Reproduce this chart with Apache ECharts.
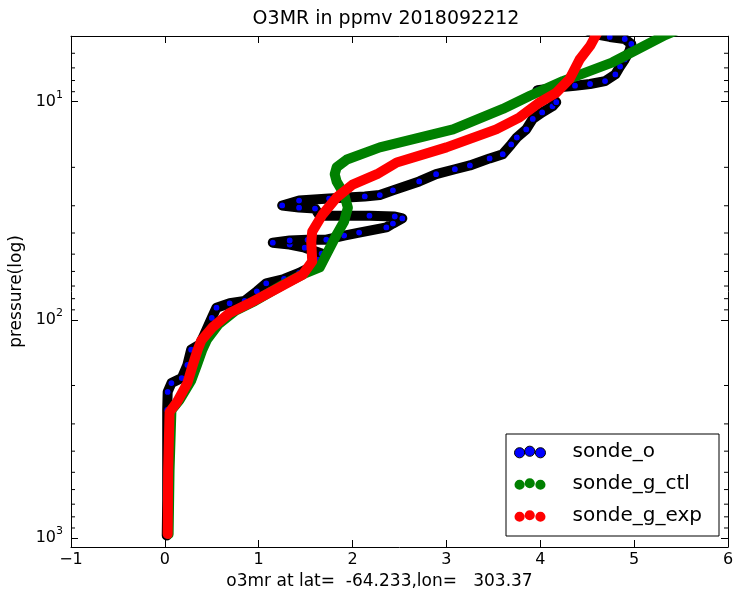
<!DOCTYPE html>
<html>
<head>
<meta charset="utf-8">
<script src="https://cdn.jsdelivr.net/npm/echarts@6/dist/echarts.min.js"></script>
</head>
<body style="margin:0;background:#fff">
<div id="main" style="width:734px;height:589px"></div>
<script>
// sonde observation: ozone (ppmv) and pressure (hPa)
var obsX = [0.02, 0.025, 0.025, 0.025, 0.03, 0.07, 0.18, 0.24, 0.28, 0.37, 0.42, 0.50, 0.55, 0.69, 0.85, 0.98, 1.08, 1.27, 1.43, 1.54, 1.63, 1.67,
            1.49, 1.33, 1.15, 1.33, 1.52, 1.72, 1.91, 2.07, 2.36, 2.43, 2.53, 2.45, 2.18, 1.91, 1.65, 1.60, 1.43, 1.25,
            1.43, 1.75, 1.94, 2.13, 2.29, 2.43, 2.71, 2.89, 3.09, 3.25, 3.46, 3.60, 3.69, 3.75, 3.85, 3.92, 4.02, 4.13, 4.17,
            4.08, 3.97, 4.20, 4.37, 4.53, 4.69, 4.80, 4.85, 4.90, 4.95, 4.97, 4.90, 4.74, 4.58, 4.47];
var obsP = [975, 670, 400, 259, 214, 195, 185, 161, 137, 130, 117, 98, 88, 84, 82, 74, 68, 65, 61, 57.7, 53, 49.7,
            46.7, 45.2, 44.3, 43.3, 43.0, 42.9, 41.1, 39.8, 37.7, 36.2, 34.3, 33.6, 33.3, 33.3, 33.3, 30.9, 30.6, 29.9,
            28.4, 27.8, 27.5, 27.2, 26.8, 25.5, 23.2, 21.5, 20.4, 19.6, 18.2, 17.4, 15.7, 14.6, 13.4, 12.0, 11.2, 10.5, 10.05,
            9.3, 8.85, 8.6, 8.45, 8.3, 8.05, 7.5, 6.9, 6.4, 5.86, 5.44, 5.16, 5.05, 4.9, 4.64];

// model control run
var ctlX = [0.04, 0.05, 0.07, 0.16, 0.28, 0.34, 0.40, 0.45, 0.57, 0.75, 0.96, 1.26, 1.50, 1.65, 1.72, 1.83, 1.91, 1.95, 1.91, 1.83, 1.81, 1.83, 1.94, 2.29, 3.07, 3.60, 3.89, 4.24, 4.77, 5.33, 5.49];
var ctlP = [960, 490, 259, 232, 190, 162, 137, 123, 105, 91, 82, 69, 61, 57.5, 50.3, 40.7, 35.4, 30.6, 26.6, 23.2, 21.5, 20.0, 18.4, 16.2, 13.4, 10.8, 9.4, 8.05, 6.6, 4.95, 4.64];

// model experiment run
var expX = [0.03, 0.035, 0.05, 0.13, 0.24, 0.29, 0.35, 0.39, 0.51, 0.69, 0.90, 1.22, 1.47, 1.57, 1.56, 1.57, 1.68, 1.83, 2.00, 2.26, 2.47, 3.00, 3.53, 3.78, 3.99, 4.17, 4.31, 4.42, 4.53, 4.63];
var expP = [960, 490, 265, 238, 195, 165, 137, 124, 108, 93, 84, 71, 62, 54, 44, 39.4, 32.9, 27.5, 24.0, 21.5, 19.0, 16.2, 13.4, 11.8, 10.1, 9.1, 7.9, 6.4, 5.56, 4.64];

var seriesNames = ['sonde_o', 'sonde_g_ctl', 'sonde_g_exp'];
var xTicks = [-1, 0, 1, 2, 3, 4, 5, 6];
var minorTickP = [6, 7, 8, 9, 20, 30, 40, 50, 60, 70, 80, 90, 200, 300, 400, 500, 600, 700, 800, 900];

function zip(xs, ps) {
    return xs.map(function (x, i) { return [x, ps[i]]; });
}

var font = 'DejaVu Sans';
var threeDots = 'path://M0,6.5a5,5 0 1,0 10,0a5,5 0 1,0 -10,0ZM10,5a5,5 0 1,0 10,0a5,5 0 1,0 -10,0ZM20.5,6.5a5,5 0 1,0 10,0a5,5 0 1,0 -10,0Z';

var myChart = echarts.init(document.getElementById('main'), null, { renderer: 'canvas' });

var pMin = 5, pMax = 1100;

function powLabel(v) {
    var e = Math.log10(v);
    if (Math.abs(e - Math.round(e)) > 1e-6) return '';
    return '10{sup|' + Math.round(e) + '}';
}

function renderMinor(params, api) {
    var cs = params.coordSys;
    var y = api.coord([0, api.value(1)])[1];
    var st = { stroke: '#000', lineWidth: 1 };
    return {
        type: 'group',
        children: [
            { type: 'line', shape: { x1: cs.x, y1: y, x2: cs.x + 4, y2: y }, style: st },
            { type: 'line', shape: { x1: cs.x + cs.width, y1: y, x2: cs.x + cs.width - 4, y2: y }, style: st }
        ]
    };
}

var axisLine = { show: true, onZero: false, lineStyle: { color: '#000', width: 1 } };
var tick = { show: true, inside: true, length: 7, lineStyle: { color: '#000', width: 1 } };

var option = {
    animation: false,
    backgroundColor: '#fff',
    title: {
        text: 'O3MR in ppmv 2018092212', z: 20,
        left: 386, top: 10, textAlign: 'center', padding: 0,
        textStyle: { fontFamily: font, fontSize: 19, fontWeight: 'normal', color: '#000' }
    },
    // white band above the plot so thick lines stop at the top spine
    graphic: [{
        type: 'rect', z: 15, silent: true,
        shape: { x: 60, y: 0, width: 674, height: 35.5 },
        style: { fill: '#fff' }
    }],
    grid: { left: 71, right: 6, top: 36, bottom: 42, outerBoundsMode: 'none', containLabel: false },
    legend: {
        orient: 'vertical', left: 506, top: 434,
        padding: [8, 17, 10, 8],
        borderColor: '#000', borderWidth: 1, backgroundColor: '#fff',
        itemWidth: 31, itemHeight: 12, itemGap: 12,
        selectedMode: false,
        icon: threeDots,
        textStyle: { fontFamily: font, fontSize: 20, color: '#000', padding: [0, 0, 0, 22] },
        data: [
            { name: seriesNames[0], itemStyle: { color: '#0000ff', borderColor: '#000', borderWidth: 1 } },
            { name: seriesNames[1], itemStyle: { color: '#008000', borderWidth: 0 } },
            { name: seriesNames[2], itemStyle: { color: '#ff0000', borderWidth: 0 } }
        ]
    },
    xAxis: [{
        type: 'value', min: xTicks[0], max: xTicks[xTicks.length - 1], interval: 1,
        name: 'o3mr at lat=  -64.233,lon=   303.37', nameLocation: 'middle', nameGap: 24,
        nameTextStyle: { fontFamily: font, fontSize: 17, color: '#000', padding: [0, 40, 0, 0] },
        axisLine: axisLine, axisTick: tick, splitLine: { show: false },
        axisLabel: {
            fontFamily: font, fontSize: 16, color: '#000', margin: 5,
            formatter: function (v) { return v < 0 ? '\u2212' + (-v) : String(v); }
        }
    }, {
        type: 'value', position: 'top', min: xTicks[0], max: xTicks[xTicks.length - 1], interval: 1,
        axisLine: axisLine, axisTick: tick, splitLine: { show: false }, axisLabel: { show: false }
    }],
    yAxis: [{
        type: 'log', logBase: 10, min: pMin, max: pMax, inverse: true,
        name: 'pressure(log)', nameLocation: 'middle', nameGap: 45, nameRotate: 90,
        nameTextStyle: { fontFamily: font, fontSize: 17, color: '#000' },
        axisLine: axisLine, axisTick: tick, splitLine: { show: false }, minorTick: { show: false },
        axisLabel: {
            fontFamily: font, fontSize: 16, color: '#000', margin: 8,
            showMinLabel: false, showMaxLabel: false,
            formatter: powLabel,
            rich: { sup: { fontFamily: font, fontSize: 11, color: '#000', padding: [0, 0, 14, 0] } }
        }
    }, {
        type: 'log', logBase: 10, min: pMin, max: pMax, inverse: true, position: 'right',
        axisLine: axisLine, axisTick: tick, splitLine: { show: false }, axisLabel: { show: false }
    }],
    series: [{
        name: seriesNames[0], type: 'line', z: 2,
        data: zip(obsX, obsP),
        symbol: 'circle', symbolSize: 7, showSymbol: true,
        itemStyle: { color: '#0000ff', borderColor: '#000', borderWidth: 1.2 },
        lineStyle: { color: '#000', width: 10, cap: 'round', join: 'round' },
        emphasis: { disabled: true }
    }, {
        name: seriesNames[1], type: 'line', z: 3,
        data: zip(ctlX, ctlP), showSymbol: false,
        itemStyle: { color: '#008000' },
        lineStyle: { color: '#008000', width: 10, cap: 'round', join: 'round' },
        emphasis: { disabled: true }
    }, {
        name: seriesNames[2], type: 'line', z: 4,
        data: zip(expX, expP), showSymbol: false,
        itemStyle: { color: '#ff0000' },
        lineStyle: { color: '#ff0000', width: 10, cap: 'round', join: 'round' },
        emphasis: { disabled: true }
    }, {
        type: 'custom', silent: true, clip: false, z: 5,
        renderItem: renderMinor,
        data: minorTickP.map(function (p) { return [0, p]; })
    }]
};

myChart.setOption(option);
</script>
</body>
</html>
